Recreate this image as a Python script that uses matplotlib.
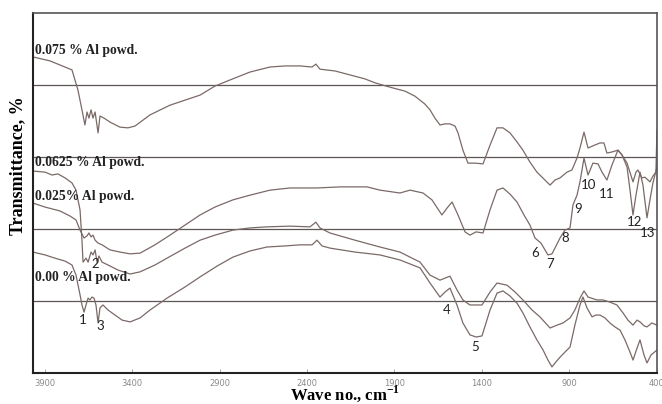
import matplotlib
matplotlib.use("Agg")
import matplotlib.pyplot as plt

plt.rcParams['mathtext.fontset'] = 'custom'
plt.rcParams['mathtext.rm'] = 'Liberation Serif'
plt.rcParams['mathtext.bf'] = 'Liberation Serif:bold'

# FTIR spectra, wavenumber (cm-1) and relative transmittance (offset stacked)
wn_075 = [3966, 3869, 3743, 3709, 3686, 3669, 3657, 3646, 3634, 3623, 3611, 3594, 3583, 3560,
          3526, 3469, 3423, 3383, 3297, 3183, 3011, 2926, 2840, 2726, 2611, 2526, 2440, 2371,
          2349, 2326, 2240, 2154, 2069, 2011, 1926, 1840, 1783, 1726, 1697, 1669, 1640, 1611,
          1583, 1554, 1537, 1509, 1480, 1440, 1394, 1354, 1314, 1280, 1240, 1200, 1166, 1126,
          1086, 1040, 1011, 983, 954, 914, 886, 857, 840, 817, 794, 766, 726, 703, 686, 657,
          623, 600, 571, 537, 520, 509, 486, 469, 440, 423, 406, 400]
t_075 = [87.8, 86.7, 84.2, 78.6, 73.1, 68.9, 72.5, 70.8, 73.1, 70.8, 72.5, 66.7, 71.4, 70.8,
         69.7, 68.3, 68.1, 68.6, 71.7, 74.4, 77.2, 79.7, 81.4, 83.6, 85.0, 85.3, 85.3, 85.0,
         85.8, 84.4, 83.9, 82.8, 81.7, 80.6, 79.4, 78.3, 76.9, 74.7, 73.1, 70.8, 68.9, 69.2,
         69.2, 68.6, 66.7, 61.9, 58.3, 58.3, 58.1, 63.3, 68.1, 68.1, 66.7, 64.2, 61.9, 58.6,
         55.8, 53.6, 52.2, 53.6, 54.2, 55.8, 56.4, 59.7, 62.5, 66.9, 62.5, 63.1, 63.9, 63.9,
         61.1, 61.4, 61.9, 60.6, 58.3, 53.1, 55.8, 56.4, 54.2, 54.4, 53.1, 54.7, 55.8, 67.5]

wn_0625 = [3966, 3897, 3857, 3823, 3783, 3743, 3720, 3697, 3686, 3680, 3663, 3651, 3634, 3623,
           3611, 3600, 3589, 3571, 3537, 3480, 3411, 3354, 3269, 3200, 3097, 3011, 2926, 2823,
           2726, 2629, 2497, 2383, 2349, 2326, 2269, 2126, 1983, 1869, 1754, 1697, 1640, 1583,
           1543, 1509, 1469, 1400, 1354, 1314, 1257, 1211, 1166, 1114, 1069, 1011, 971, 937,
           897, 869, 840, 817, 794, 743, 709, 669, 629, 594, 566, 537, 514, 497, 474, 457, 429, 400]
t_0625 = [56.1, 55.8, 55.0, 55.3, 54.2, 52.8, 50.8, 45.3, 36.9, 30.8, 31.9, 30.8, 33.6, 32.8,
          34.2, 30.8, 32.5, 30.8, 30.0, 28.6, 27.5, 28.1, 30.0, 31.9, 34.7, 36.9, 38.3, 39.7,
          40.3, 40.6, 40.8, 40.6, 41.9, 40.3, 38.9, 36.9, 35.0, 33.6, 30.8, 27.2, 25.8, 26.9,
          23.1, 20.3, 18.9, 18.9, 22.5, 25.0, 24.4, 22.5, 20.3, 17.5, 15.6, 12.5, 13.3, 13.9,
          15.3, 17.5, 20.8, 22.8, 21.1, 20.3, 20.3, 19.7, 18.9, 16.7, 14.7, 13.3, 14.7, 14.2,
          13.1, 12.8, 13.9, 13.3]

wn_025 = [3966, 3897, 3811, 3754, 3720, 3697, 3674, 3657, 3646, 3634, 3623, 3611, 3594, 3571,
          3526, 3469, 3411, 3354, 3269, 3183, 3097, 3011, 2926, 2823, 2726, 2611, 2497, 2343,
          2211, 2057, 1983, 1869, 1811, 1737, 1686, 1629, 1600, 1571, 1537, 1497, 1469, 1434,
          1394, 1354, 1314, 1280, 1240, 1200, 1160, 1126, 1097, 1063, 1040, 1023, 1000, 983,
          954, 926, 897, 880, 857, 840, 817, 794, 766, 737, 714, 686, 657, 623, 600, 571, 554,
          537, 520, 497, 480, 457, 440, 423, 400]
t_025 = [47.2, 46.1, 45.0, 43.6, 42.5, 39.7, 37.5, 38.1, 38.9, 37.8, 38.3, 36.9, 36.1, 35.6,
         34.2, 33.6, 33.1, 33.3, 35.6, 38.3, 41.1, 43.9, 46.1, 48.1, 49.4, 50.8, 51.4, 51.4,
         51.7, 51.7, 50.8, 50.0, 50.8, 50.0, 48.1, 43.9, 45.8, 47.5, 43.9, 39.2, 38.3, 39.2,
         38.9, 45.3, 50.8, 51.4, 49.7, 47.5, 43.9, 41.1, 37.5, 36.1, 34.2, 32.8, 33.1, 34.7,
         37.5, 39.7, 40.3, 46.7, 49.4, 53.1, 59.7, 55.0, 58.3, 58.1, 55.8, 53.6, 57.8, 61.9,
         60.6, 57.2, 50.8, 43.9, 49.4, 55.8, 52.2, 43.1, 48.1, 52.8, 57.2]

wn_000 = [3966, 3897, 3840, 3783, 3743, 3720, 3697, 3686, 3674, 3663, 3651, 3640, 3629, 3617,
          3606, 3594, 3583, 3566, 3537, 3497, 3457, 3411, 3354, 3297, 3200, 3097, 3011, 2914,
          2823, 2726, 2629, 2526, 2440, 2371, 2343, 2314, 2269, 2126, 1983, 1869, 1754, 1697,
          1640, 1611, 1583, 1543, 1509, 1469, 1434, 1400, 1354, 1314, 1280, 1240, 1200, 1166,
          1126, 1086, 1051, 1023, 1000, 977, 954, 926, 897, 869, 840, 823, 800, 771, 749, 726,
          697, 669, 640, 611, 583, 554, 537, 514, 497, 474, 457, 434, 400]
t_000 = [33.6, 32.8, 31.9, 31.1, 30.0, 27.2, 21.7, 18.9, 16.9, 18.9, 20.8, 20.3, 21.1, 20.8,
         18.9, 13.9, 18.1, 18.9, 17.5, 16.1, 14.7, 14.2, 15.3, 17.5, 20.8, 23.9, 26.7, 29.7,
         32.2, 33.9, 35.0, 35.3, 35.6, 35.6, 36.9, 35.3, 34.7, 33.6, 32.8, 31.4, 29.2, 25.0,
         21.1, 22.5, 23.6, 18.9, 13.9, 10.6, 10.0, 10.3, 17.5, 22.2, 22.8, 21.4, 19.4, 16.7,
         12.8, 9.2, 6.4, 3.6, 1.7, 3.1, 4.4, 5.8, 7.2, 13.3, 18.9, 21.1, 18.1, 15.6, 16.1, 16.1,
         15.3, 13.9, 12.8, 11.9, 9.2, 5.8, 3.6, 6.9, 9.2, 5.0, 2.8, 5.0, 6.4]

names = ["0.075 % Al powd.", "0.0625 % Al powd.", "0.025% Al powd.", "0.00 % Al powd."]
name_y = [89.7, 58.6, 48.9, 26.4]

# numbered band labels
band_no = ["1", "2", "3", "4", "5", "6", "7", "8", "9", "10", "11", "12", "13"]
band_wn = [3680, 3611, 3583, 1600, 1440, 1097, 1011, 926, 851, 789, 686, 526, 451]
band_t = [14.7, 30.3, 13.1, 17.5, 7.2, 33.3, 30.3, 37.5, 45.6, 52.2, 49.7, 41.9, 38.9]

ticks = [3900, 3400, 2900, 2400, 1900, 1400, 900, 400]

line_col = "#7a6a67"

fig = plt.figure(figsize=(6.62, 4.04), dpi=100)
ax = fig.add_axes([0.0498, 0.0767, 0.9426, 0.8911])

for wn, t in [(wn_075, t_075), (wn_0625, t_0625), (wn_025, t_025), (wn_000, t_000)]:
    ax.plot(wn, t, color=line_col, lw=0.9)

for y in [20, 40, 60, 80]:
    ax.axhline(y, color="#5f5555", lw=0.9, zorder=0)

ax.set_xlim(3966, 400)
ax.set_ylim(0, 100)
ax.set_xticks(ticks)
ax.set_xticklabels([str(t) for t in ticks])
ax.set_yticks([])
ax.tick_params(axis="x", direction="in", length=3, width=0.6, color="#999999",
               labelsize=6, labelcolor="#8a8a8a", pad=4)

for side in ["top", "right"]:
    ax.spines[side].set_color("#555555")
    ax.spines[side].set_linewidth(1.2)
for side in ["left", "bottom"]:
    ax.spines[side].set_color("#222222")
    ax.spines[side].set_linewidth(1.5)

for name, y in zip(names, name_y):
    ax.text(3954, y, name, fontsize=9.8, fontweight="bold", family="Liberation Serif",
            va="center", ha="left", color="#222222")

for no, wn, t in zip(band_no, band_wn, band_t):
    ax.text(wn, t, no, fontsize=9.5, family="Lato", ha="center", va="center", color="#222222")

ax.set_xlabel(r"Wave no., cm$^{\mathbf{-1}}$", fontsize=12, fontweight="bold",
              family="Liberation Serif", va="baseline")
ax.xaxis.set_label_coords(0.5, -0.0736)
ax.set_ylabel("Transmittance, %", fontsize=13, fontweight="bold",
              family="Liberation Serif", va="center")
ax.yaxis.set_label_coords(-0.024, 0.575)

fig.savefig("out.png", dpi=100)
